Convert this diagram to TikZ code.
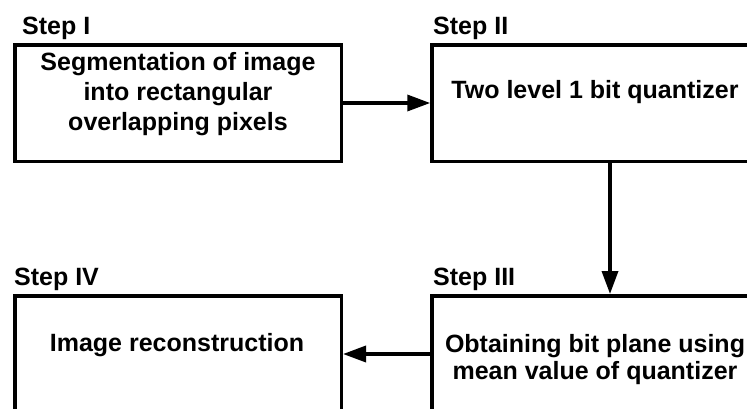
\documentclass[tikz,border=0pt]{standalone}
\usepackage{fontspec}
\setmainfont{Liberation Sans}
\usetikzlibrary{arrows.meta}
\tikzset{
  stepbox/.style={draw=black, line width=3.5pt, rectangle, minimum width=326.5pt, minimum height=116.5pt, inner sep=0pt},
  boxtext/.style={font=\bfseries\fontsize{25}{30}\selectfont, align=center, inner sep=0pt, text=black},
  steplabel/.style={font=\bfseries\fontsize{25}{30}\selectfont, anchor=base west, inner sep=0pt, text=black},
  arr/.style={line width=3.5pt, -{Triangle[length=23pt,width=16pt]}}
}
\begin{document}
\begin{tikzpicture}[x=1pt, y=-1pt]
\useasboundingbox (0,0) rectangle (747,408);
\clip (0,0) rectangle (747,408);
\fill[white] (0,0) rectangle (747,408);
% boxes
\node[stepbox] (s1) at (178,103) {};
\node[stepbox] (s2) at (595.25,103) {};
\node[stepbox] (s3) at (595.25,354) {};
\node[stepbox] (s4) at (178,354) {};
% labels
\node[steplabel] (l1) at (22,34) {Step I};
\node[steplabel] (l2) at (433,34) {Step II};
\node[steplabel] (l3) at (433,285) {Step III};
\node[steplabel] (l4) at (14,285) {Step IV};
% texts
\node[boxtext] (t1) at (178,94.5) {Segmentation of image\\into rectangular\\overlapping pixels};
\node[boxtext] (t2) at (595,92.5) {Two level 1 bit quantizer};
\node[boxtext, font=\bfseries\fontsize{25}{27}\selectfont] (t3) at (595,360) {Obtaining bit plane using\\mean value of quantizer};
\node[boxtext] (t4) at (177,344.6) {Image reconstruction};
% connectors
\coordinate (vx) at (610,0);
\draw[arr] (s1.east) -- (s2.west);
\draw[arr] (s2.south -| vx) -- (s3.north -| vx);
\draw[arr] (s3.west) -- (s4.east);
\end{tikzpicture}
\end{document}
